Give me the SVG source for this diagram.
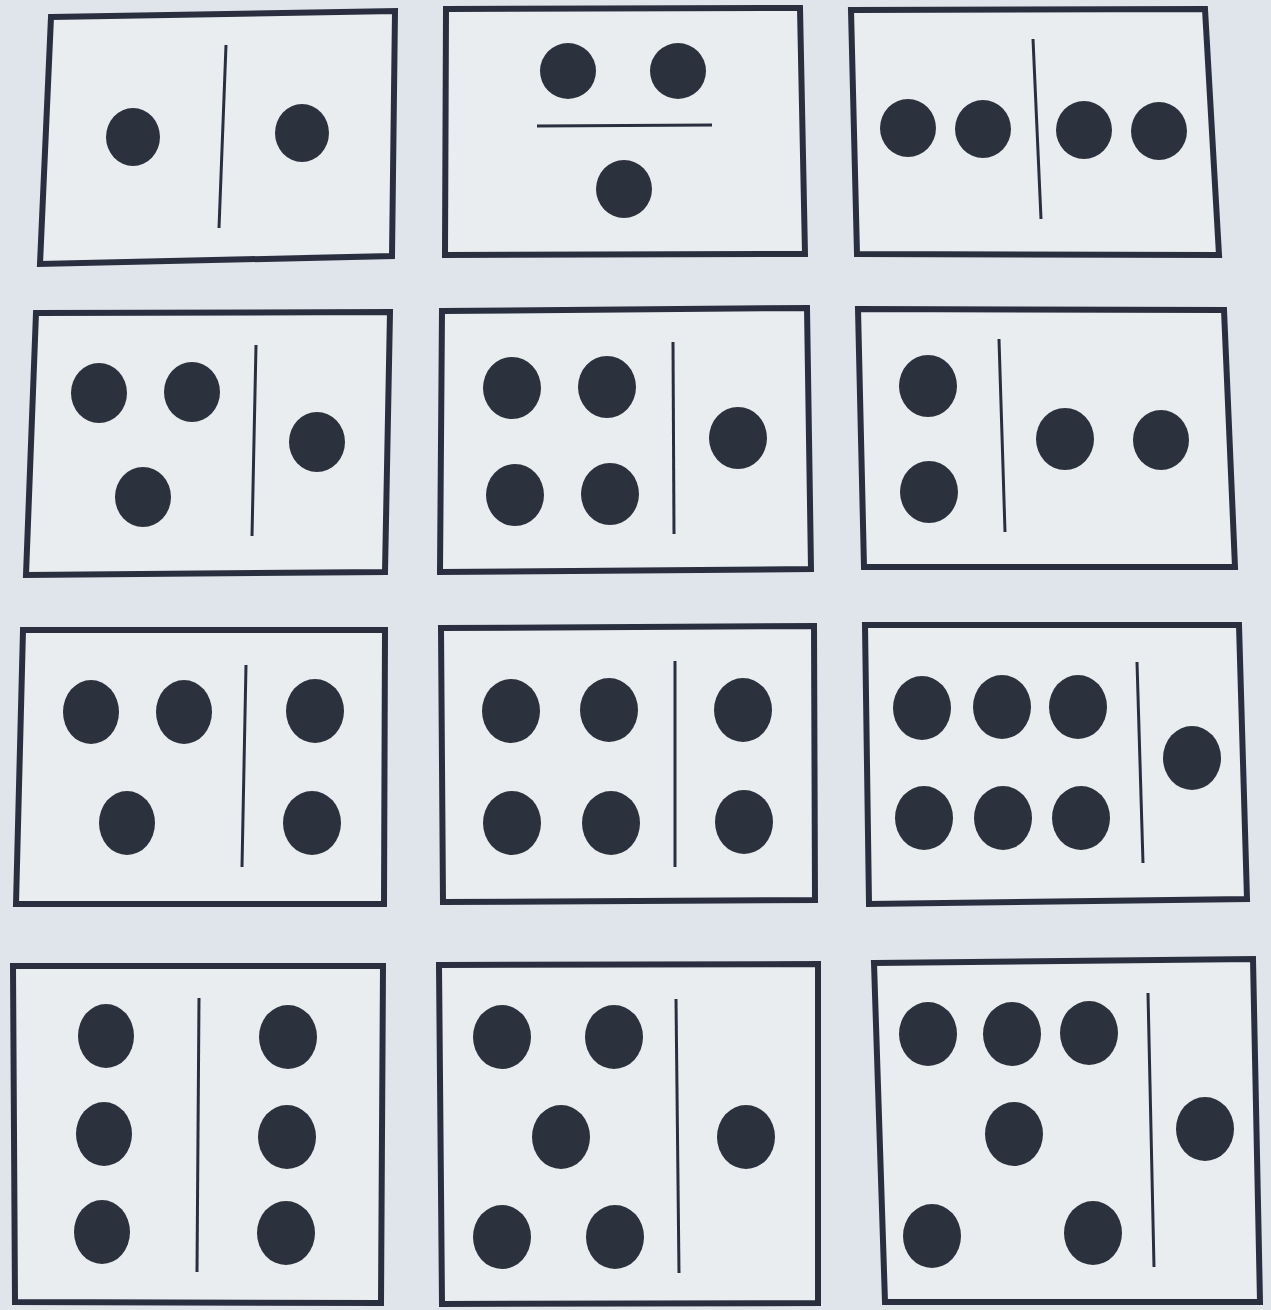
<svg xmlns="http://www.w3.org/2000/svg" width="1271" height="1310" viewBox="0 0 1271 1310">
<style>
.card{fill:#e9edf0;stroke:#2a2f40;stroke-width:6;stroke-linejoin:miter}
.div{stroke:#2a2f40;stroke-width:3;stroke-linecap:butt}
.dot{fill:#2c323d}
</style>
<rect x="0" y="0" width="1271" height="1310" fill="#dfe5ea"/>
<g id="card1">
<polygon class="card" points="51,17 395,11 392,256 40,264"/>
<line class="div" x1="226" y1="45" x2="219" y2="228"/>
<ellipse class="dot" cx="133" cy="137" rx="27" ry="29"/>
<ellipse class="dot" cx="302" cy="133" rx="27" ry="29"/>
</g>
<g id="card2">
<polygon class="card" points="446,9 800,8 805,254 445,255"/>
<line class="div" x1="537" y1="126" x2="712" y2="125"/>
<ellipse class="dot" cx="568" cy="71" rx="28" ry="28"/>
<ellipse class="dot" cx="678" cy="71" rx="28" ry="28"/>
<ellipse class="dot" cx="624" cy="189" rx="28" ry="29"/>
</g>
<g id="card3">
<polygon class="card" points="851,10 1205,9 1219,255 857,254"/>
<line class="div" x1="1033" y1="39" x2="1041" y2="219"/>
<ellipse class="dot" cx="908" cy="128" rx="28" ry="29"/>
<ellipse class="dot" cx="983" cy="129" rx="28" ry="29"/>
<ellipse class="dot" cx="1084" cy="130" rx="28" ry="29"/>
<ellipse class="dot" cx="1159" cy="131" rx="28" ry="29"/>
</g>
<g id="card4">
<polygon class="card" points="36,313 390,312 385,572 26,575"/>
<line class="div" x1="256" y1="345" x2="252" y2="536"/>
<ellipse class="dot" cx="99" cy="393" rx="28" ry="30"/>
<ellipse class="dot" cx="192" cy="392" rx="28" ry="30"/>
<ellipse class="dot" cx="143" cy="497" rx="28" ry="30"/>
<ellipse class="dot" cx="317" cy="442" rx="28" ry="30"/>
</g>
<g id="card5">
<polygon class="card" points="442,311 807,308 811,569 440,572"/>
<line class="div" x1="673" y1="342" x2="674" y2="534"/>
<ellipse class="dot" cx="512" cy="388" rx="29" ry="31"/>
<ellipse class="dot" cx="607" cy="387" rx="29" ry="31"/>
<ellipse class="dot" cx="515" cy="495" rx="29" ry="31"/>
<ellipse class="dot" cx="610" cy="494" rx="29" ry="31"/>
<ellipse class="dot" cx="738" cy="438" rx="29" ry="31"/>
</g>
<g id="card6">
<polygon class="card" points="858,309 1224,310 1235,567 864,567"/>
<line class="div" x1="999" y1="339" x2="1005" y2="532"/>
<ellipse class="dot" cx="928" cy="386" rx="29" ry="31"/>
<ellipse class="dot" cx="929" cy="492" rx="29" ry="31"/>
<ellipse class="dot" cx="1065" cy="439" rx="29" ry="31"/>
<ellipse class="dot" cx="1161" cy="440" rx="28" ry="30"/>
</g>
<g id="card7">
<polygon class="card" points="23,630 385,630 384,904 16,904"/>
<line class="div" x1="246" y1="665" x2="242" y2="867"/>
<ellipse class="dot" cx="91" cy="712" rx="28" ry="32"/>
<ellipse class="dot" cx="184" cy="712" rx="28" ry="32"/>
<ellipse class="dot" cx="315" cy="711" rx="29" ry="32"/>
<ellipse class="dot" cx="127" cy="823" rx="28" ry="32"/>
<ellipse class="dot" cx="312" cy="823" rx="29" ry="32"/>
</g>
<g id="card8">
<polygon class="card" points="441,628 814,626 815,900 443,902"/>
<line class="div" x1="675" y1="661" x2="675" y2="867"/>
<ellipse class="dot" cx="511" cy="711" rx="29" ry="32"/>
<ellipse class="dot" cx="609" cy="710" rx="29" ry="32"/>
<ellipse class="dot" cx="743" cy="710" rx="29" ry="32"/>
<ellipse class="dot" cx="512" cy="823" rx="29" ry="32"/>
<ellipse class="dot" cx="611" cy="823" rx="29" ry="32"/>
<ellipse class="dot" cx="744" cy="822" rx="29" ry="32"/>
</g>
<g id="card9">
<polygon class="card" points="865,625 1239,625 1247,899 869,904"/>
<line class="div" x1="1137" y1="662" x2="1143" y2="863"/>
<ellipse class="dot" cx="922" cy="708" rx="29" ry="32"/>
<ellipse class="dot" cx="1002" cy="707" rx="29" ry="32"/>
<ellipse class="dot" cx="1078" cy="707" rx="29" ry="32"/>
<ellipse class="dot" cx="924" cy="818" rx="29" ry="32"/>
<ellipse class="dot" cx="1003" cy="818" rx="29" ry="32"/>
<ellipse class="dot" cx="1081" cy="818" rx="29" ry="32"/>
<ellipse class="dot" cx="1192" cy="758" rx="29" ry="32"/>
</g>
<g id="card10">
<polygon class="card" points="13,966 383,966 381,1303 15,1302"/>
<line class="div" x1="199" y1="998" x2="197" y2="1272"/>
<ellipse class="dot" cx="106" cy="1036" rx="28" ry="32"/>
<ellipse class="dot" cx="288" cy="1037" rx="29" ry="32"/>
<ellipse class="dot" cx="104" cy="1134" rx="28" ry="32"/>
<ellipse class="dot" cx="287" cy="1137" rx="29" ry="32"/>
<ellipse class="dot" cx="102" cy="1232" rx="28" ry="32"/>
<ellipse class="dot" cx="286" cy="1233" rx="29" ry="32"/>
</g>
<g id="card11">
<polygon class="card" points="439,965 818,964 818,1303 442,1304"/>
<line class="div" x1="676" y1="999" x2="679" y2="1273"/>
<ellipse class="dot" cx="502" cy="1037" rx="29" ry="32"/>
<ellipse class="dot" cx="614" cy="1037" rx="29" ry="32"/>
<ellipse class="dot" cx="561" cy="1137" rx="29" ry="32"/>
<ellipse class="dot" cx="746" cy="1137" rx="29" ry="32"/>
<ellipse class="dot" cx="502" cy="1237" rx="29" ry="32"/>
<ellipse class="dot" cx="615" cy="1237" rx="29" ry="32"/>
</g>
<g id="card12">
<polygon class="card" points="874,963 1253,959 1260,1302 885,1302"/>
<line class="div" x1="1148" y1="993" x2="1154" y2="1267"/>
<ellipse class="dot" cx="928" cy="1034" rx="29" ry="32"/>
<ellipse class="dot" cx="1012" cy="1034" rx="29" ry="32"/>
<ellipse class="dot" cx="1089" cy="1033" rx="29" ry="32"/>
<ellipse class="dot" cx="1014" cy="1134" rx="29" ry="32"/>
<ellipse class="dot" cx="1205" cy="1129" rx="29" ry="32"/>
<ellipse class="dot" cx="932" cy="1236" rx="29" ry="32"/>
<ellipse class="dot" cx="1093" cy="1233" rx="29" ry="32"/>
</g>
</svg>
